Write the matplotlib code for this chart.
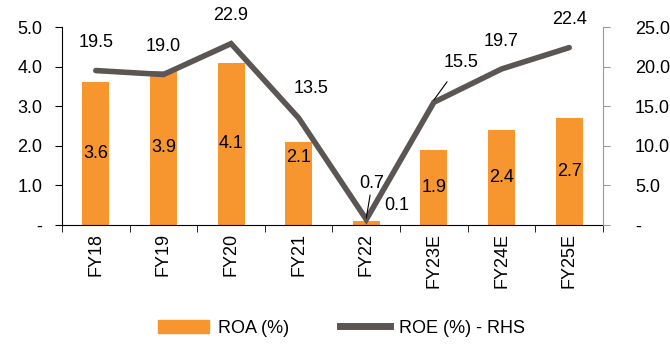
## ROA / ROE combo chart - bars on left axis, line on right axis
import numpy as np
import matplotlib.pyplot as plt
from matplotlib.ticker import FixedLocator

## Data
years = ["FY18", "FY19", "FY20", "FY21", "FY22", "FY23E", "FY24E", "FY25E"]
roa = [3.6, 3.9, 4.1, 2.1, 0.1, 1.9, 2.4, 2.7] # ROA (%) bar values
roe = [19.5, 19.0, 22.9, 13.5, 0.7, 15.5, 19.7, 22.4] # ROE (%) - RHS

## Style
plt.rcParams["font.family"] = ["Liberation Sans", "DejaVu Sans"]
plt.rcParams["font.size"] = 13
bar_col = "#F7962F"
line_col = "#5B5553"

fig = plt.figure(figsize = (6.7, 3.49), dpi = 100)
ax = fig.add_axes([62 / 670, 1 - 225 / 349, 541 / 670, 198 / 349])
ax2 = ax.twinx()

x = np.arange(len(years))
ax.bar(x, roa, width = 0.4, color = bar_col, zorder = 2)
ax2.plot(x, roe, color = line_col, lw = 4.0, solid_capstyle = "round", solid_joinstyle = "miter", zorder = 3)

ax.set_xlim(-0.5, len(years) - 0.5)
ax.set_ylim(0, 5)
ax2.set_ylim(0, 25)

## Axis ticks
ax.set_yticks([0, 1, 2, 3, 4, 5])
ax.set_yticklabels(["-", "1.0", "2.0", "3.0", "4.0", "5.0"])
ax2.set_yticks([0, 5, 10, 15, 20, 25])
ax2.set_yticklabels(["-", "5.0", "10.0", "15.0", "20.0", "25.0"])
ax.set_xticks(x)
ax.set_xticklabels(years, rotation = 90)
ax.xaxis.set_minor_locator(FixedLocator(np.arange(-0.5, len(years), 1)))
ax.tick_params(axis = "x", which = "major", length = 0, pad = 6)
ax.tick_params(axis = "x", which = "minor", length = 5, color = "black")
ax.tick_params(axis = "y", length = 5, pad = 9)
ax2.tick_params(axis = "y", length = 5, pad = 18, color = "#999999")

for a in (ax, ax2):
    a.spines["top"].set_visible(False)
ax2.spines["left"].set_visible(False)
ax2.spines["bottom"].set_visible(False)
ax2.spines["right"].set_color("#999999")
ax.spines["right"].set_visible(False)

## ROA labels in middle of the bars (FY21 sits higher, FY22 beside the bar)
for i, v in enumerate(roa):
    if v < 0.5:
        ax.text(i + 0.45, 0.5, f"{v:.1f}", ha = "center", va = "center", zorder = 5)
    elif i == 3:
        ax.text(i, v - 0.4, f"{v:.1f}", ha = "center", va = "center", zorder = 5)
    else:
        ax.text(i, v / 2, f"{v:.1f}", ha = "center", va = "center", zorder = 5)

## ROE labels above the line
for i, v in enumerate(roe):
    if i == 4:
        ax2.annotate(f"{v:.1f}", xy = (i, v + 0.2), xytext = (i - 0.1, 5.2), ha = "left", va = "center",
                     arrowprops = dict(arrowstyle = "-", color = "black", lw = 0.8, shrinkA = 0, shrinkB = 0))
    elif i == 5:
        ax2.annotate(f"{v:.1f}", xy = (i, v + 0.3), xytext = (i + 0.4, v + 5.0), ha = "center", va = "center",
                     arrowprops = dict(arrowstyle = "-", color = "black", lw = 0.8, shrinkA = 7, shrinkB = 0))
    elif i == 3:
        ax2.text(i + 0.18, v + 3.7, f"{v:.1f}", ha = "center", va = "center")
    else:
        ax2.text(i, v + 3.5, f"{v:.1f}", ha = "center", va = "center")

## Legend
h1 = plt.Rectangle((0, 0), 1, 1, color = bar_col)
h2 = plt.Line2D([0], [0], color = line_col, lw = 5)
fig.legend([h1, h2], ["ROA (%)", "ROE (%) - RHS"], loc = "center", bbox_to_anchor = (0.51, 0.06),
           ncol = 2, frameon = False, handlelength = 2.8, columnspacing = 2.8, handletextpad = 0.5)

fig.savefig("out.png", dpi = 100)
